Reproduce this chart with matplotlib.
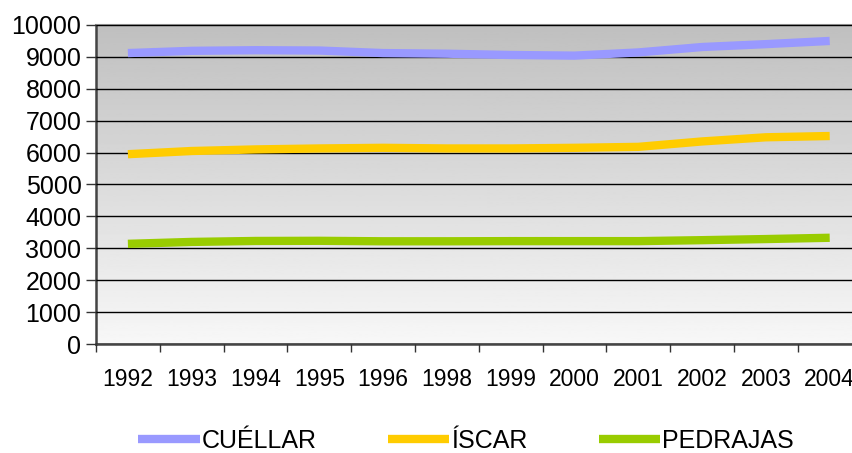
import numpy as np
import matplotlib.pyplot as plt

years = ["1992", "1993", "1994", "1995", "1996", "1998", "1999", "2000", "2001", "2002", "2003", "2004"]
cuellar = [9120, 9190, 9210, 9200, 9120, 9100, 9060, 9040, 9140, 9310, 9400, 9500]
iscar = [5950, 6050, 6100, 6130, 6150, 6130, 6130, 6150, 6180, 6350, 6480, 6520]
pedrajas = [3140, 3200, 3230, 3235, 3220, 3220, 3225, 3225, 3225, 3255, 3290, 3330]

plt.rcParams['font.family'] = ['Liberation Sans', 'DejaVu Sans']

fig = plt.figure(figsize=(8.52, 4.53), dpi=100)
ax = fig.add_axes([96 / 852, 1 - 344 / 453, 765.6 / 852, 319 / 453])

x = np.arange(len(years))
ax.set_xlim(-0.5, len(years) - 0.5)
ax.set_ylim(0, 10000)

# gray gradient background, dark at top
grad = np.linspace(0.75, 0.97, 256).reshape(-1, 1)
ax.imshow(grad, cmap='gray', vmin=0, vmax=1, aspect='auto',
          extent=(-0.5, len(years) - 0.5, 0, 10000), origin='upper', zorder=0)

ax.set_yticks(np.arange(0, 10001, 1000))
ax.yaxis.grid(True, color='black', linewidth=1)
ax.set_axisbelow(False)
for gl in ax.get_ygridlines():
    gl.set_zorder(1)

ax.plot(x, cuellar, color='#9999ff', lw=6, label='CUÉLLAR', zorder=3, solid_capstyle='butt')
ax.plot(x, iscar, color='#ffcc00', lw=6, label='ÍSCAR', zorder=3, solid_capstyle='butt')
ax.plot(x, pedrajas, color='#99cc00', lw=6, label='PEDRAJAS', zorder=3, solid_capstyle='butt')

ax.set_xticks(x)
ax.set_xticklabels(years)
ax.set_xticks(np.arange(-0.5, len(years)), minor=True)
ax.tick_params(axis='x', which='major', length=0, pad=17.5, labelsize=16.5)
ax.tick_params(axis='x', which='minor', length=6, width=1, color='#333333', direction='out')
ax.tick_params(axis='y', length=7, width=1, color='#333333', labelsize=18, pad=3.5)

for s in ['left', 'bottom']:
    ax.spines[s].set_color('#444444')
    ax.spines[s].set_linewidth(1.8)
ax.spines['top'].set_color('#888888')
ax.spines['top'].set_linewidth(1.5)
ax.spines['right'].set_visible(False)

fig.legend(loc='center', bbox_to_anchor=(466 / 852, 1 - 441 / 453), ncol=3,
           frameon=False, fontsize=18, handlelength=2.45, handletextpad=0.08,
           columnspacing=2.85)

fig.savefig('out.png', dpi=100)
